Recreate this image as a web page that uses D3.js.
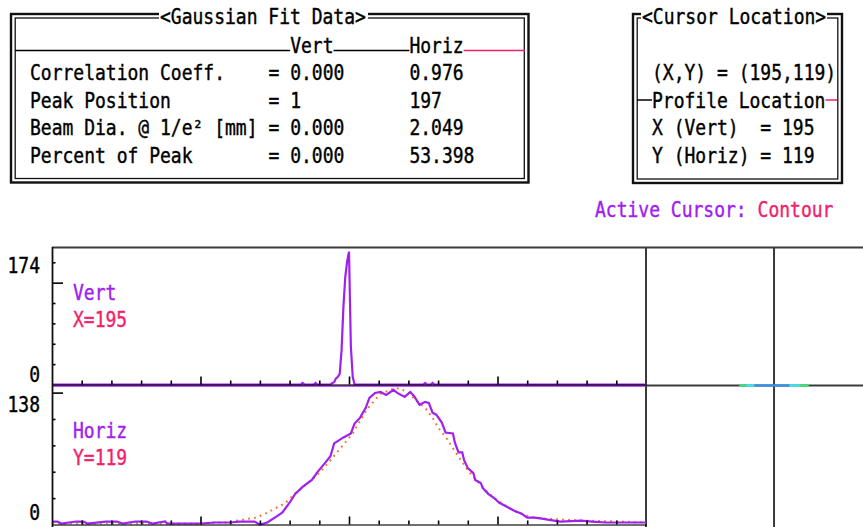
<!DOCTYPE html>
<html>
<head>
<meta charset="utf-8">
<script src="https://cdn.jsdelivr.net/npm/d3@7"></script>
<style>
  body { margin: 0; background: #fff; }
  svg { display: block; font-family: "DejaVu Sans Mono", monospace; font-size: 18px; }
  text { stroke-width: 0.35px; }
</style>
</head>
<body>
<svg id="chart"></svg>
<script>
// ---- table text ----
const fitLabels = ["Correlation Coeff.", "Peak Position", "Beam Dia. @ 1/e\u00b2 [mm]", "Percent of Peak"];
const fitVert = ["= 0.000", "= 1", "= 0.000", "= 0.000"];
const fitHoriz = ["0.976", "197", "2.049", "53.398"];
const cursorLines = ["(X,Y) = (195,119)", null, "X (Vert)  = 195", "Y (Horiz) = 119"];

// ---- profile data (sample index along the line, intensity) ----
const vertIdx = [0, 134, 135, 136, 141, 142, 143, 150, 151, 152, 153, 154, 155, 156, 157, 158, 159, 160, 161, 162, 163, 200, 201, 202, 204, 205, 206, 320];
const vertVal = [0, 0, 2, 0, 0, 2, 0, 0, 2, 3, 8, 10, 14, 45, 102, 141, 161, 174, 50, 10, 0, 0, 2, 0, 0, 2, 0, 0];

const horizIdx = [0, 3, 5, 13, 17, 19, 29, 35, 38, 45, 48, 51, 54, 61, 62, 80, 88, 96, 101, 109, 112, 116, 120, 124, 128, 131, 135, 140, 143, 147, 150, 152, 157, 161, 163, 166, 169, 171, 174, 177, 180, 184, 186, 190, 193, 195, 197, 198, 201, 203, 205, 207, 210, 212, 216, 217, 219, 221, 222, 224, 227, 228, 231, 232, 235, 238, 241, 244, 247, 249, 253, 256, 260, 264, 267, 274, 285, 291, 298, 306, 320];
const horizVal = [3, 3, 1, 3, 3, 1, 3, 3, 1, 3, 3, 3, 1, 3, 1, 1, 2, 2, 3, 3, 0, 2, 7, 12, 22, 31, 38, 45, 53, 62, 69, 82, 88, 92, 102, 108, 118, 128, 133, 134, 131, 136, 133, 129, 134, 130, 124, 121, 124, 123, 113, 111, 103, 93, 92, 83, 73, 73, 65, 57, 52, 45, 42, 37, 31, 27, 22, 19, 16, 14, 11, 7, 7, 6, 5, 3, 4, 3, 2, 2, 2];

const fitIdx = [0, 80, 85, 95, 100, 110, 116, 122, 126, 130, 138, 145, 150, 154, 158, 162, 166, 170, 174, 177, 182, 185, 188, 192, 197, 201, 205, 208, 213, 216, 221, 226, 229, 234, 238, 242, 247, 251, 256, 260, 265, 284, 306, 320];
const fitVal = [1, 1, 2, 2, 4, 7, 12, 18, 22, 30, 42, 54, 65, 74, 83, 92, 105, 117, 126, 132, 136, 138, 137, 133, 124, 118, 108, 98, 86, 77, 63, 50, 44, 34, 27, 22, 16, 12, 9, 7, 6, 4, 3, 2];

// ---- axis ticks ----
const xTicks = [16, 32, 48, 64, 80, 96, 112, 128, 144, 160, 176, 192, 208, 224, 240, 256, 272, 288, 304];
const xMajor = [80, 160, 240];
const yTicks = [26.67, 53.33, 80, 106.67, 133.33, 160];
const yMajor = 133.33;

// contour strip on the cursor view (percent across the strip)
const contourStart = [43, 46, 50, 66, 71];
const contourEnd = [46, 50, 66, 71, 75];
const contourColor = ["#3ee07a", "#3fe3ea", "#3b93e3", "#3fe3ea", "#3ee07a"];
const cursorPos = 59;

const PURPLE = "#a020f0", PINK = "#f21f6b", ORANGE = "#ff6f24", OLIVE = "#b4ae1c";
const width = 863, height = 527;

const svg = d3.select("#chart").attr("width", width).attr("height", height);
svg.append("rect").attr("width", width).attr("height", height).attr("fill", "#fff");

const cw = 10.84; // character cell width
function txt(x, y, s, color, anchor) {
  const c = color || "#000";
  return svg.append("text")
    .attr("transform", `translate(${x},${y}) scale(1,1.16)`)
    .attr("fill", c).attr("stroke", c)
    .attr("text-anchor", anchor || "start")
    .style("white-space", "pre")
    .text(s);
}
function hline(x1, x2, y, color, w) {
  svg.append("line").attr("x1", x1).attr("x2", x2).attr("y1", y).attr("y2", y)
    .attr("stroke", color).attr("stroke-width", w);
}
function doubleBox(x1, y1, x2, y2) {
  svg.append("rect").attr("x", x1).attr("y", y1).attr("width", x2 - x1).attr("height", y2 - y1)
    .attr("fill", "none").attr("stroke", "#111").attr("stroke-width", 2.4);
  svg.append("rect").attr("x", x1 + 4.2).attr("y", y1 + 4).attr("width", x2 - x1 - 8.4).attr("height", y2 - y1 - 8)
    .attr("fill", "none").attr("stroke", "#111").attr("stroke-width", 1.3);
}

// ---- Gaussian fit box ----
doubleBox(11, 14, 528.5, 182.5);
svg.append("rect").attr("x", 159).attr("y", 9).attr("width", 209).attr("height", 13).attr("fill", "#fff");
txt(160, 24, "<Gaussian Fit Data>");
const col0 = 30;
hline(15, col0 + 24 * cw, 50.5, "#000", 1.5);
txt(col0 + 24 * cw, 53, "Vert");
hline(col0 + 28 * cw, col0 + 35 * cw, 50.5, "#000", 1.5);
txt(col0 + 35 * cw, 53, "Horiz");
hline(col0 + 40 * cw, 525, 50.5, PINK, 1.5);
const rowY = [80, 107.5, 135, 162.5];
fitLabels.forEach((s, i) => {
  txt(col0, rowY[i], s);
  txt(col0 + 22 * cw, rowY[i], fitVert[i]);
  txt(col0 + 35 * cw, rowY[i], fitHoriz[i]);
});

// ---- cursor location box ----
doubleBox(633, 14, 842, 183);
svg.append("rect").attr("x", 641).attr("y", 9).attr("width", 186).attr("height", 13).attr("fill", "#fff");
txt(642, 24, "<Cursor Location>");
cursorLines.forEach((s, i) => { if (s) txt(652, rowY[i], s); });
hline(637, 652, 100, "#000", 1.5);
txt(652, rowY[1], "Profile Location");
hline(652 + 16 * cw, 837, 100, PINK, 1.5);

txt(595, 217, "Active Cursor: ", PURPLE);
txt(595 + 15 * cw, 217, "Contour", PINK);

// ---- profile panels ----
const x = d3.scaleLinear().domain([0, 320]).range([52, 646]);
const vertY = d3.scaleLinear().domain([0, 180]).range([384.5, 247]);
const horizY = d3.scaleLinear().domain([0, 140]).range([524.5, 386]);
const cursorX = d3.scaleLinear().domain([0, 100]).range([646, 863]);

// frame
const frame = "#3a3a3a";
hline(52, width, 247.5, frame, 2);
hline(646, width, 385.5, frame, 2);
svg.append("line").attr("x1", x(320)).attr("x2", x(320)).attr("y1", 247).attr("y2", height).attr("stroke", frame).attr("stroke-width", 2);
svg.append("line").attr("x1", cursorX(cursorPos)).attr("x2", cursorX(cursorPos)).attr("y1", 247).attr("y2", height).attr("stroke", frame).attr("stroke-width", 2);

// contour strip
svg.selectAll(".contour").data(contourStart).enter().append("line")
  .attr("x1", d => cursorX(d)).attr("x2", (d, i) => cursorX(contourEnd[i]))
  .attr("y1", 385.5).attr("y2", 385.5)
  .attr("stroke", (d, i) => contourColor[i]).attr("stroke-width", 2.5);

const vertPts = vertIdx.map((d, i) => [d, vertVal[i]]);
const horizPts = horizIdx.map((d, i) => [d, horizVal[i]]);
const fitPts = fitIdx.map((d, i) => [d, fitVal[i]]);

// fit curve (dotted)
const fitLine = d3.line().x(d => x(d[0])).y(d => horizY(d[1]));
svg.append("path").attr("d", fitLine(fitPts.filter(d => d[0] <= 80)))
  .attr("fill", "none").attr("stroke", OLIVE).attr("stroke-width", 2).attr("stroke-dasharray", "1.8,4.2");
svg.append("path").attr("d", fitLine(fitPts.filter(d => d[0] >= 80)))
  .attr("fill", "none").attr("stroke", ORANGE).attr("stroke-width", 2).attr("stroke-dasharray", "1.8,4.2");

// profiles
svg.append("path").attr("d", d3.line().x(d => x(d[0])).y(d => horizY(d[1]))(horizPts))
  .attr("fill", "none").attr("stroke", PURPLE).attr("stroke-width", 2.2);
svg.append("path").attr("d", d3.line().x(d => x(d[0])).y(d => vertY(d[1]))(vertPts))
  .attr("fill", "none").attr("stroke", PURPLE).attr("stroke-width", 2.2);
hline(52, 646, 386, PURPLE, 1.6);

// axes
const xAxisV = svg.append("g").attr("transform", `translate(0,${vertY(0)})`)
  .call(d3.axisTop(x).tickValues(xTicks).tickSize(4).tickSizeOuter(0).tickFormat(""));
const xAxisH = svg.append("g").attr("transform", `translate(0,${horizY(0)})`)
  .call(d3.axisTop(x).tickValues(xTicks).tickSize(4).tickSizeOuter(0).tickFormat(""));
[xAxisV, xAxisH].forEach(g => {
  g.select(".domain").attr("stroke", "#000").attr("stroke-width", 1.4).attr("stroke-opacity", 0.75);
  g.selectAll(".tick line").attr("stroke", "#000").attr("stroke-width", 1.6)
    .attr("y2", d => xMajor.includes(d) ? -8 : -4);
});

const yAxisV = svg.append("g").attr("transform", `translate(${x(0)},0)`)
  .call(d3.axisRight(vertY).tickValues(yTicks).tickSize(3.5).tickSizeOuter(0).tickFormat(""));
const yAxisH = svg.append("g").attr("transform", `translate(${x(0)},0)`)
  .call(d3.axisRight(horizY).tickValues(yTicks.filter(d => d <= 140)).tickSize(3.5).tickSizeOuter(0).tickFormat(""));
[yAxisV, yAxisH].forEach(g => {
  g.select(".domain").remove();
  g.selectAll(".tick line").attr("stroke", "#000").attr("stroke-width", 1.6)
    .attr("x2", d => d === yMajor ? 11 : 3.5);
});
svg.append("line").attr("x1", 52.5).attr("x2", 52.5).attr("y1", 247).attr("y2", height)
  .attr("stroke", "#111").attr("stroke-width", 1.8);

// panel labels
txt(40, 273, "174", "#000", "end");
txt(40, 381.5, "0", "#000", "end");
txt(40, 412, "138", "#000", "end");
txt(40, 520, "0", "#000", "end");
txt(73, 300, "Vert", PURPLE);
txt(73, 327, "X=195", PINK);
txt(73, 438, "Horiz", PURPLE);
txt(73, 465, "Y=119", PINK);
</script>
</body>
</html>
